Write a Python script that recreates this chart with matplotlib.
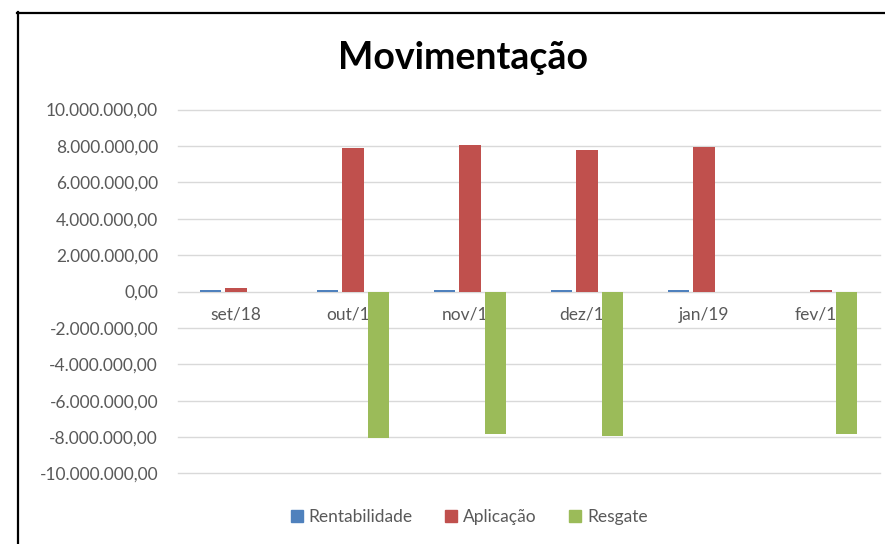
import matplotlib.pyplot as plt
import numpy as np
from matplotlib.ticker import FuncFormatter
from matplotlib.lines import Line2D

plt.rcParams['font.family'] = ['Lato', 'DejaVu Sans']

# data
meses = ['set/18', 'out/18', 'nov/18', 'dez/18', 'jan/19', 'fev/19']
rentabilidade = [80000, 70000, 75000, 80000, 75000, 0]
aplicacao = [170000, 7900000, 8050000, 7800000, 7930000, 80000]
resgate = [0, -8050000, -7850000, -7920000, 0, -7850000]

series = ['Rentabilidade', 'Aplicação', 'Resgate']
cores = ['#4f81bd', '#c0504d', '#9bbb59']
texto = '#595959'


def fmt_br(v, pos=None):
    s = '{:,.2f}'.format(v)
    return s.replace(',', 'X').replace('.', ',').replace('X', '.')


fig = plt.figure(figsize=(8.85, 5.44), dpi=100)
ax = fig.add_axes([177.5 / 885, 1 - 473.4 / 544, 702 / 885, (473.4 - 109.6) / 544])

x = np.arange(len(meses))
w = 0.18
passo = 0.22
for i, (vals, cor) in enumerate(zip([rentabilidade, aplicacao, resgate], cores)):
    ax.bar(x + (i - 1) * passo, vals, width=w, color=cor, zorder=3)

ax.set_xlim(-0.5, len(meses) - 0.5)
ax.set_ylim(-10000000, 10000000)
ax.set_yticks(np.arange(-10000000, 10000001, 2000000))
ax.yaxis.set_major_formatter(FuncFormatter(fmt_br))
ax.set_xticks(x)
ax.set_xticklabels(meses)
ax.set_axisbelow(True)
ax.grid(axis='y', color='#d9d9d9', linewidth=1)
for gl in ax.get_ygridlines():
    gl.set_clip_on(False)
for s in ax.spines.values():
    s.set_visible(False)
ax.spines['bottom'].set_position(('data', 0))
ax.tick_params(axis='both', length=0, colors=texto, labelsize=12.5)
ax.tick_params(axis='x', pad=11)
ax.tick_params(axis='y', pad=14)

fig.text(463 / 885, 1 - 58 / 544, 'Movimentação', ha='center', va='center',
         fontsize=27, fontweight='bold', color='black')

handles = [Line2D([], [], marker='s', linestyle='none', markersize=8, color=c) for c in cores]
fig.legend(handles, series, loc='center', bbox_to_anchor=(467 / 885, 1 - 517 / 544),
           ncol=3, frameon=False, fontsize=12.5, labelcolor=texto,
           handletextpad=0.1, handlelength=1.2, columnspacing=1.6)

# moldura preta
fig.add_artist(Line2D([18 / 885, 18 / 885], [0, 1 - 12 / 544], color='black', linewidth=1.6))
fig.add_artist(Line2D([17 / 885, 1], [1 - 13 / 544, 1 - 13 / 544], color='black', linewidth=1.6))

plt.savefig('out.png', dpi=100)
